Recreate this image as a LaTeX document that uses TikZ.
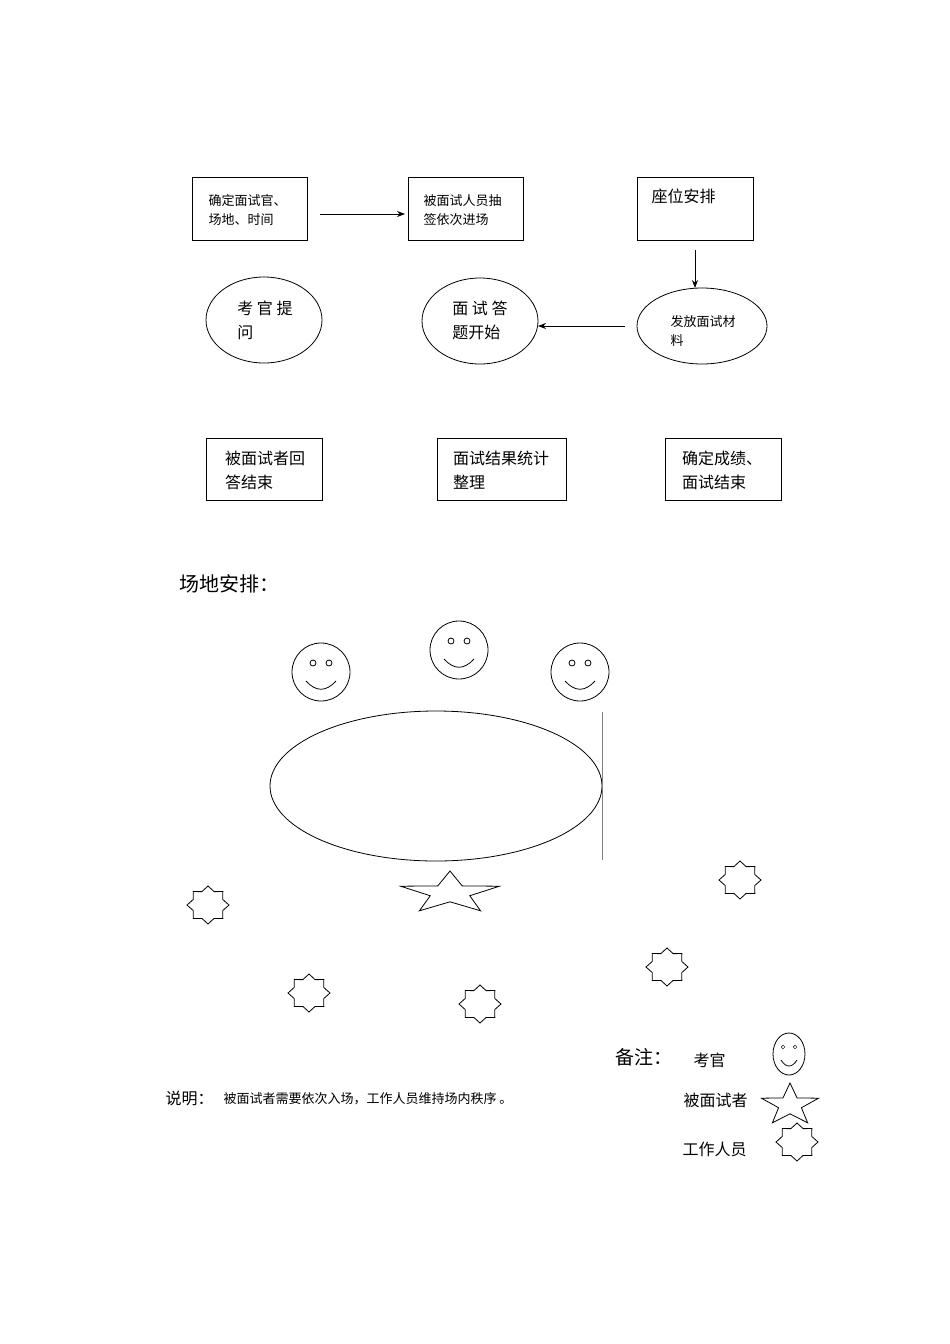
\documentclass[tikz,border=0pt]{standalone}
\usepackage{fontspec}
\newfontfamily\cjk{Noto Sans CJK SC}
\usetikzlibrary{arrows.meta}
\begin{document}
\begin{tikzpicture}[x=1pt,y=-1pt,font=\cjk,
  bx/.style={draw,thick,minimum width=115pt,minimum height=63pt,anchor=north west},
  el/.style={draw,thick},
  ar/.style={thick,-{Stealth[length=8pt]}},
  sm/.style={font=\cjk\fontsize{13}{19}\selectfont},
  md/.style={font=\cjk\fontsize{16}{24}\selectfont}]
\useasboundingbox (0,0) rectangle (950,1344);
\node[bx] (b1) at (192,177) {};
\node[sm,align=left,anchor=west] at (205,210) {确定面试官、\\场地、时间};
\node[bx] (b2) at (408,177) {};
\node[sm,align=left,anchor=west] at (420,210) {被面试人员抽\\签依次进场};
\node[bx,minimum width=116pt] (b3) at (637,177) {};
\node[md,anchor=west] at (648,196) {座位安排};
\coordinate (a1) at (320,214); \coordinate (a2) at (405,214);
\draw[ar] (a1) -- (a2);
\coordinate (a3) at (695,250); \coordinate (a4) at (695,288);
\draw[ar] (a3) -- (a4);
\draw[el] (702,326) ellipse (65 and 38);
\node[sm,align=left] (e3) at (703,331) {发放面试材\\料};
\coordinate (a5) at (625,326); \coordinate (a6) at (538,326);
\draw[ar] (a5) -- (a6);
\draw[el] (480,321) ellipse (58 and 43);
\node[md,align=left] (e2) at (480,320) {面 试 答\\题开始};
\draw[el] (264,320) ellipse (58 and 43);
\node[md,align=left] (e1) at (265,320) {考 官 提\\问\phantom{官 提}};
\node[bx,minimum width=116pt,minimum height=62pt] (c1) at (206,438) {};
\node[md,align=left] at (265,470) {被面试者回\\答结束};
\node[bx,minimum width=129pt,minimum height=62pt] (c2) at (437,438) {};
\node[md,align=left] at (501,470) {面试结果统计\\整理};
\node[bx,minimum width=116pt,minimum height=62pt] (c3) at (665,438) {};
\node[md,align=left] at (722,470) {确定成绩、\\面试结束};
\node[font=\cjk\fontsize{20}{24}\selectfont,anchor=west] at (176,584) {场地安排：};
% smileys
\foreach \cx/\cy/\r in {321/672/29,459/650/29,580/672/29}{
  \draw[thick] (\cx,\cy) circle (\r);
  \draw[thick] (\cx-8,\cy-9) circle (3);
  \draw[thick] (\cx+8,\cy-9) circle (3);
  \draw[thick] (\cx-15,\cy+9) .. controls (\cx-5,\cy+20) and (\cx+5,\cy+20) .. (\cx+15,\cy+9);
}
\draw[thick] (789,1054) ellipse (16 and 21);
\draw (783,1047) circle (1.8); \draw (795,1047) circle (1.8);
\draw[thick] (781,1060) .. controls (786,1068) and (792,1068) .. (797,1060);
\draw[thick] (436,786) ellipse (166 and 75);
\draw[gray] (602,712) -- (602,860);
% five point stars
\foreach \cx/\cy/\w/\h in {450/893/52/22,790/1105/30/22}{
  \draw[thick] plot[samples at={0,...,9}] ({\cx+ (mod(\x,2)==0 ? \w : 0.4*\w)*sin(36*\x)},{\cy - (mod(\x,2)==0 ? \h : 0.4*\h)*cos(36*\x)}) -- cycle;
}
% eight point stars
\foreach \cx/\cy in {208/905,740/880,667/967,309/993,480/1004,797/1142}{
  \draw[thick] plot[samples at={0,...,15}] ({\cx+ (mod(\x,2)==0 ? 21 : 16)*sin(22.5*\x)},{\cy - (mod(\x,2)==0 ? 19 : 14.5)*cos(22.5*\x)}) -- cycle;
}
\node[font=\cjk\fontsize{19}{24}\selectfont,anchor=west] at (612,1057) {备注：};
\node[md,anchor=west] at (690,1060) {考官};
\node[font=\cjk\fontsize{16}{20}\selectfont,anchor=west] at (162,1098) {说明：};
\node[sm,anchor=west] at (220,1099) {被面试者需要依次入场，工作人员维持场内秩序 。};
\node[md,anchor=west] at (680,1100) {被面试者};
\node[md,anchor=west] at (679,1149) {工作人员};
\end{tikzpicture}
\end{document}
